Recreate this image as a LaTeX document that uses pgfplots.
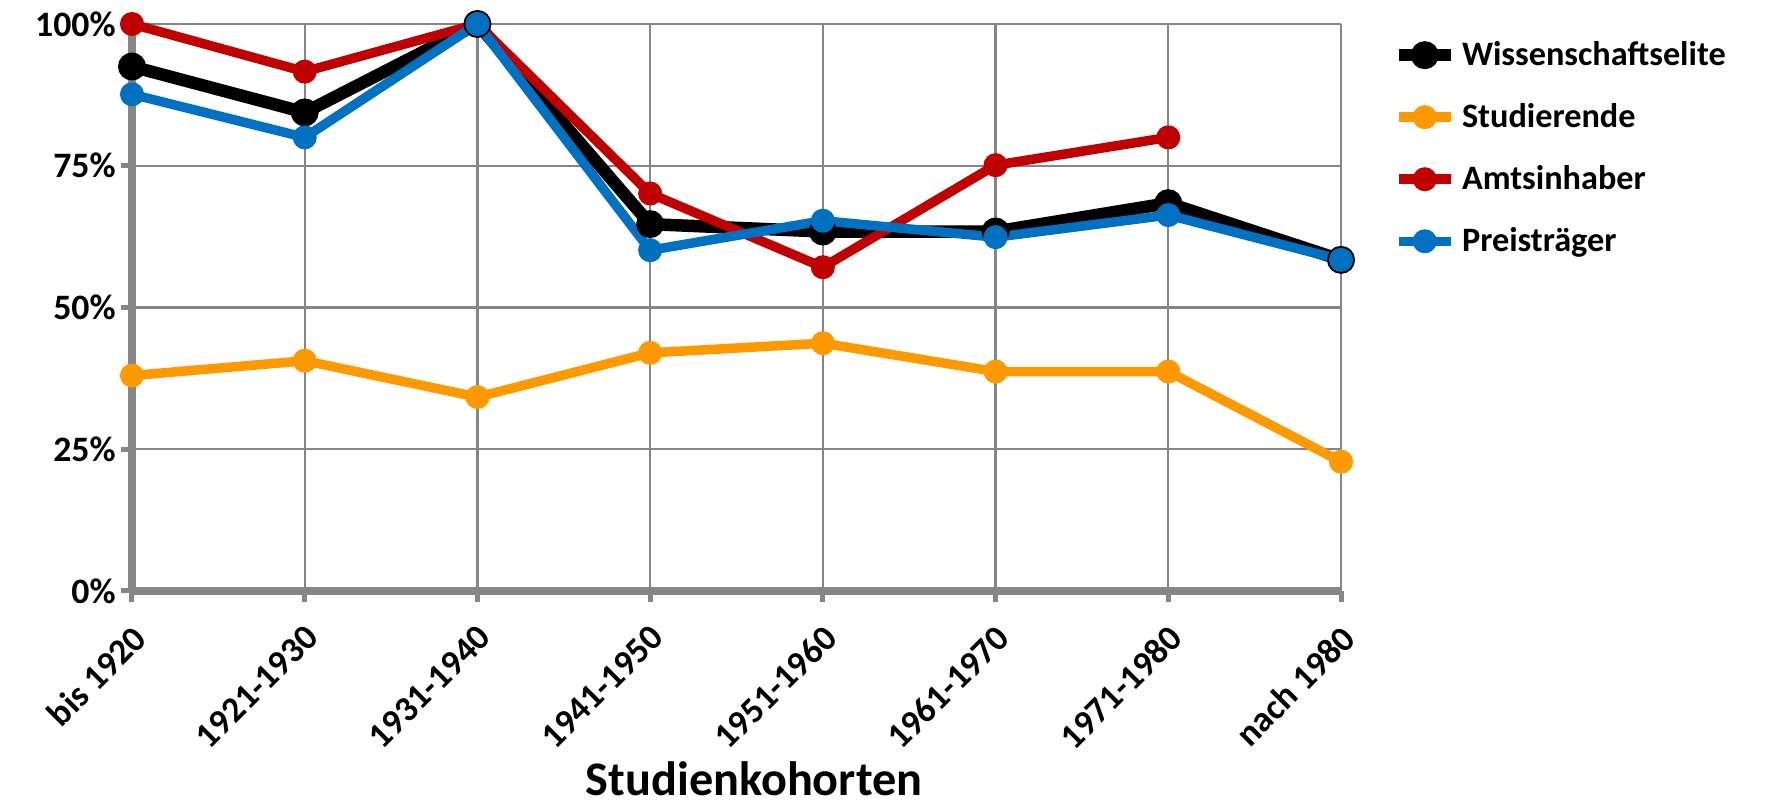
\documentclass[border=0pt]{standalone}
\usepackage{fontspec}
\setmainfont{Carlito}
\usepackage{pgfplots}
\pgfplotsset{compat=1.18}
\definecolor{cOr}{HTML}{FF9900}
\definecolor{cRe}{HTML}{C00000}
\definecolor{cBl}{HTML}{0070C0}
\definecolor{cGr}{HTML}{868686}
\begin{document}
\begin{tikzpicture}
\begin{axis}[
  scale only axis, width=483.6pt, height=226.8pt,
  xmin=0, xmax=7, ymin=0, ymax=100,
  clip=false,
  xtick={0,...,7},
  xticklabels={bis 1920,1921-1930,1931-1940,1941-1950,1951-1960,1961-1970,1971-1980,nach 1980},
  ytick={0,25,50,75,100},
  yticklabels={0\%,25\%,50\%,75\%,100\%},
  grid=major, grid style={cGr, line width=0.9pt},
  axis x line*=bottom, axis y line*=left,
  axis line style={cGr, line width=3pt},
  tick align=outside, major tick length=4.5pt,
  tick style={cGr, line width=2pt},
  ticklabel style={font=\fontsize{14.3}{16}\selectfont\bfseries, text=black},
  yticklabel style={xshift=1.5pt},
  xticklabel style={yshift=-3.5pt, xshift=-0.5pt, rotate=45, anchor=north east},
  xlabel={Studienkohorten},
  xlabel style={font=\fontsize{19.3}{22}\selectfont\bfseries, inner ysep=0pt, yshift=1pt, xshift=7pt},
  legend style={at={(1.036,0.988)}, anchor=north west, draw=none, fill=none,
    font=\fontsize{13.7}{16}\selectfont\bfseries, row sep=9.7pt},
  legend cell align=left,
  legend image code/.code={\draw[mark repeat=2,mark phase=2,#1] plot coordinates {(0pt,0pt)(10.4pt,0pt)(20.8pt,0pt)};},
]
\addplot[black, line width=5pt, mark=*, mark size=5.1pt, mark options={solid, line width=1pt}]
  coordinates {(0,92.5)(1,84.4)(2,100)(3,64.7)(4,63.4)(5,63.4)(6,68.4)(7,58.4)};
\addlegendentry{Wissenschaftselite}
\addplot[cOr, line width=3.8pt, mark=*, mark size=4.3pt, mark options={solid, line width=1pt}]
  coordinates {(0,38.0)(1,40.6)(2,34.2)(3,42.0)(4,43.7)(5,38.7)(6,38.7)(7,22.8)};
\addlegendentry{Studierende}
\addplot[cRe, line width=3.8pt, mark=*, mark size=4.3pt, mark options={solid, line width=1pt}]
  coordinates {(0,100)(1,91.6)(2,100)(3,70.1)(4,57.1)(5,75.1)(6,80.0)};
\addlegendentry{Amtsinhaber}
\addplot[cBl, line width=3.8pt, mark=*, mark size=4.3pt, mark options={solid, line width=1pt}]
  coordinates {(0,87.6)(1,80.0)(2,100)(3,60.1)(4,65.3)(5,62.4)(6,66.3)(7,58.4)};
\addlegendentry{Preisträger}
\end{axis}
\pgfresetboundingbox
\path[use as bounding box] (-52.8pt,-86.4pt) rectangle (654pt,236.4pt);
\end{tikzpicture}
\end{document}
